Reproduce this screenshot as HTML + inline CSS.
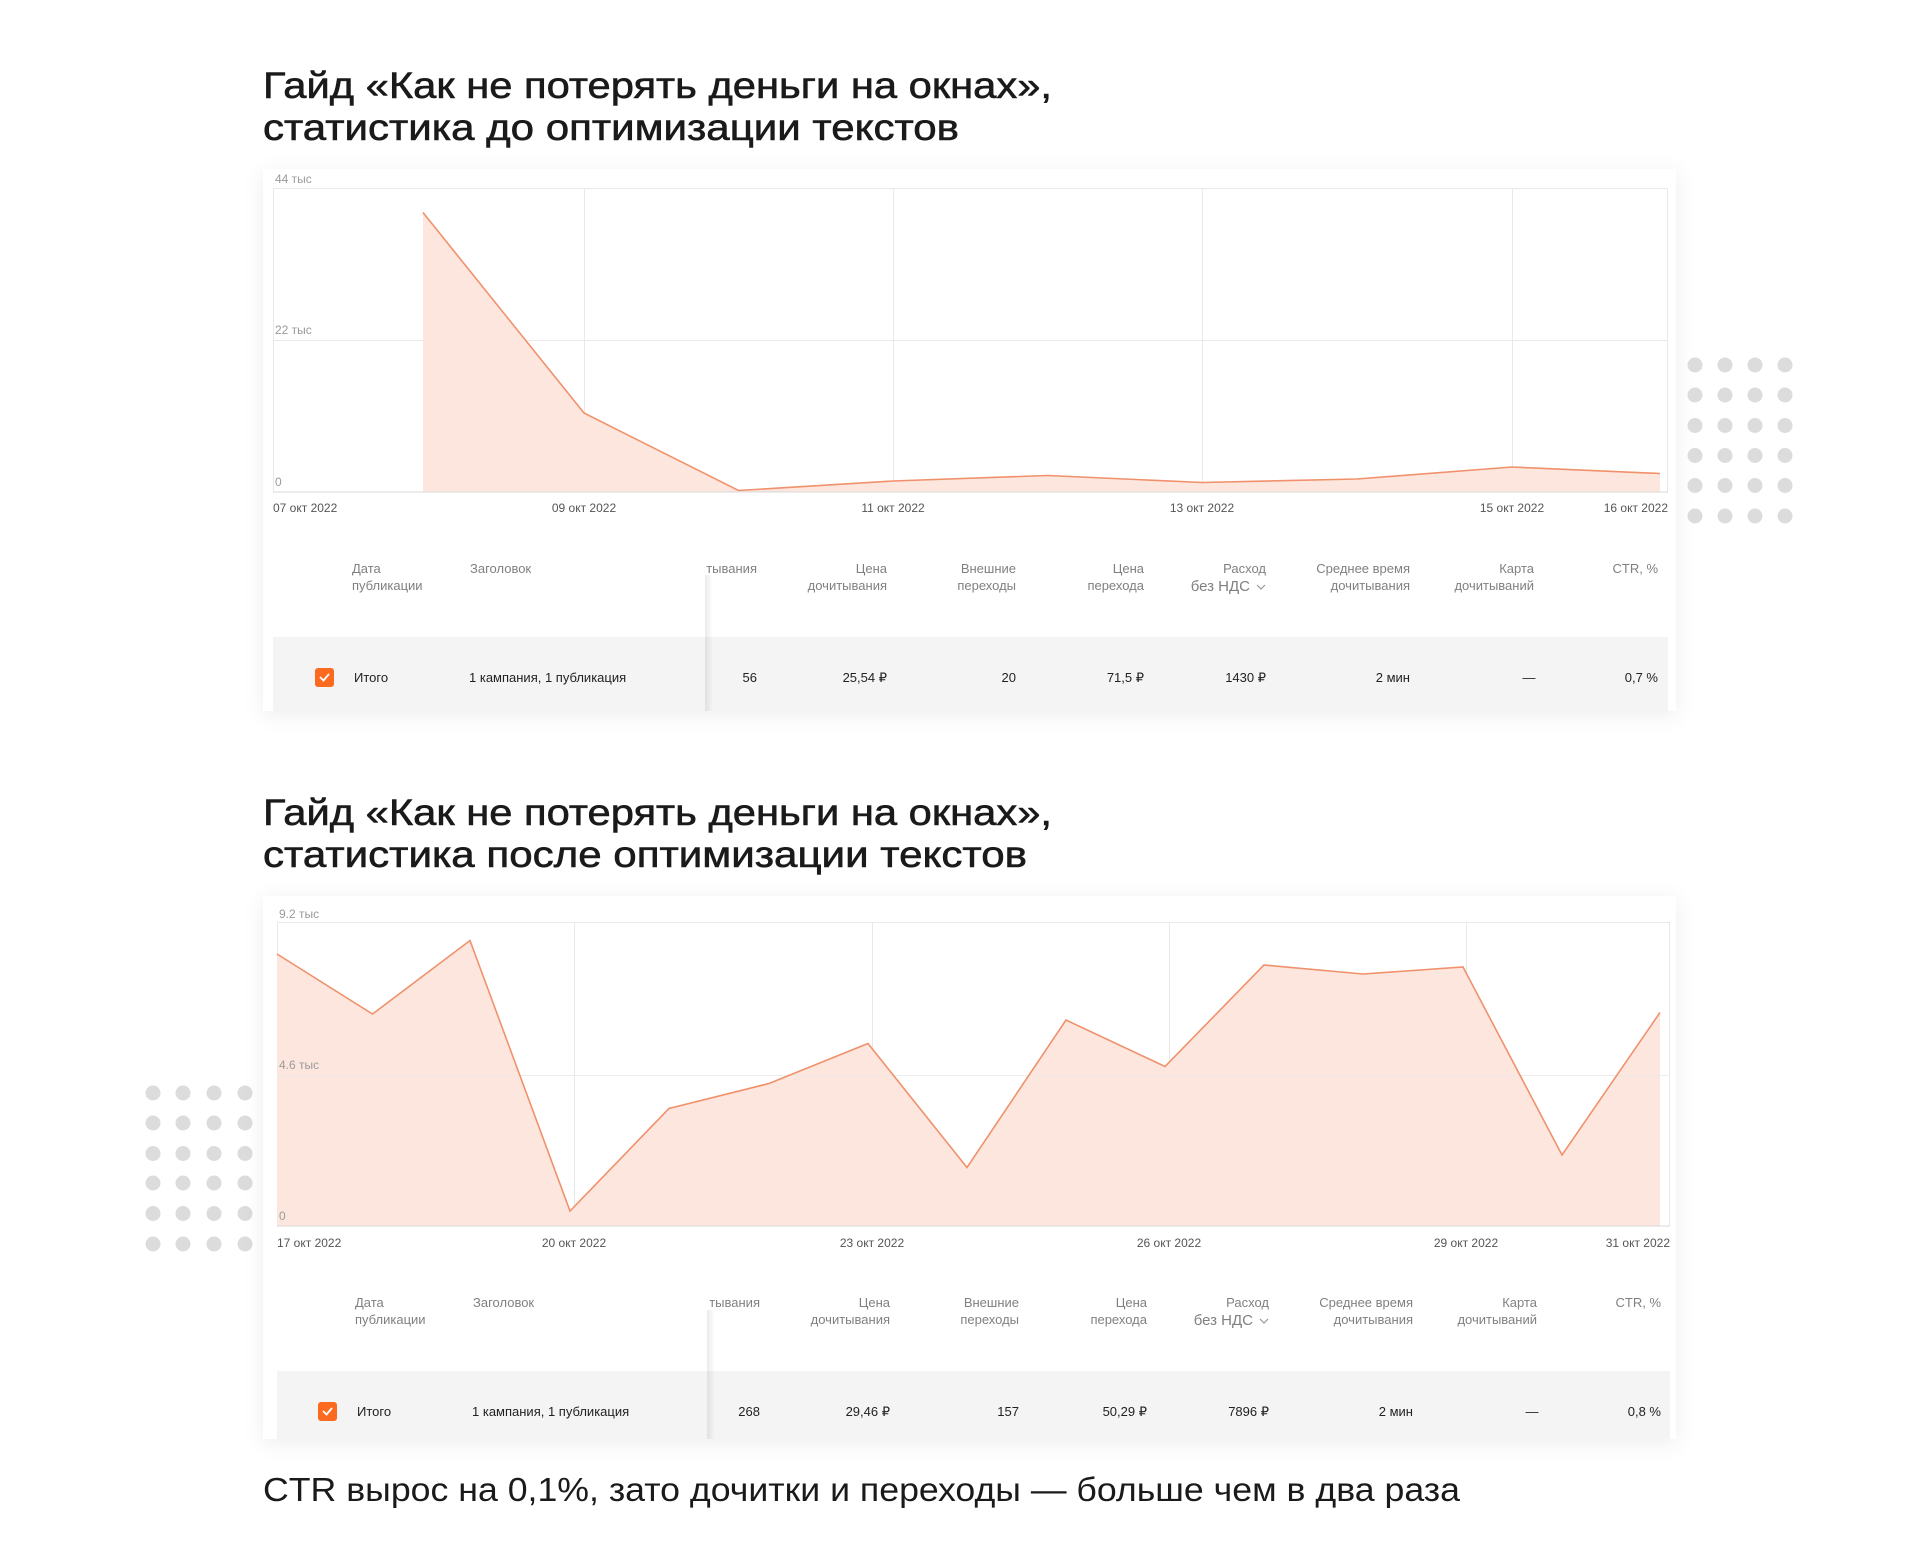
<!DOCTYPE html>
<html><head><meta charset="utf-8"><style>
html,body{margin:0;padding:0;background:#fff;}
svg{display:block;}
.t{font-family:"Liberation Sans",sans-serif;}
.ttl{font-size:37px;fill:#1a1a1a;stroke:#1a1a1a;stroke-width:0.6px;}
.yl{font-size:12px;fill:#9a9a9a;}
.xl{font-size:12px;fill:#555;}
.h{font-size:13px;fill:#808080;}
.r{font-size:13px;fill:#222;}
</style></head><body>
<svg width="1920" height="1560" viewBox="0 0 1920 1560" xmlns="http://www.w3.org/2000/svg">
<defs>
<filter id="sh" x="-5%" y="-5%" width="110%" height="115%"><feDropShadow dx="0" dy="4" stdDeviation="10" flood-color="#000" flood-opacity="0.07"/></filter>
<linearGradient id="dv" x1="0" x2="1"><stop offset="0" stop-color="#000" stop-opacity="0.08"/><stop offset="1" stop-color="#000" stop-opacity="0"/></linearGradient>
</defs>
<g class="t">
<!-- Titles 1 -->
<text class="ttl" x="263" y="98" textLength="789" lengthAdjust="spacingAndGlyphs">Гайд «Как не потерять деньги на окнах»,</text>
<text class="ttl" x="263" y="140" textLength="696" lengthAdjust="spacingAndGlyphs">статистика до оптимизации текстов</text>

<!-- Card 1 -->
<rect x="263" y="169" width="1413" height="542" fill="#fff" filter="url(#sh)"/>
<g stroke="#e9e9e9" stroke-width="1">
<line x1="273" y1="188.5" x2="1668" y2="188.5"/>
<line x1="273" y1="340.5" x2="1668" y2="340.5"/>
<line x1="273.5" y1="188" x2="273.5" y2="492"/>
<line x1="1667.5" y1="188" x2="1667.5" y2="492"/>
<line x1="584.5" y1="188" x2="584.5" y2="492"/>
<line x1="893.5" y1="188" x2="893.5" y2="492"/>
<line x1="1202.5" y1="188" x2="1202.5" y2="492"/>
<line x1="1512.5" y1="188" x2="1512.5" y2="492"/>
</g>
<polygon points="423,212.5 584,413 738.5,490.5 893,481 1047.5,475.5 1202,482.5 1357,479 1512,467 1660,473.5 1660,492 423,492" fill="#fde6dd"/>
<polyline points="423,212.5 584,413 738.5,490.5 893,481 1047.5,475.5 1202,482.5 1357,479 1512,467 1660,473.5" fill="none" stroke="#f0916c" stroke-width="1.6"/>
<line x1="273" y1="492" x2="1668" y2="492" stroke="#d8d8d8"/>
<text class="yl" x="275" y="183">44 тыс</text>
<text class="yl" x="275" y="334">22 тыс</text>
<text class="yl" x="275" y="486">0</text>
<text class="xl" x="273" y="512">07 окт 2022</text>
<text class="xl" x="584" y="512" text-anchor="middle">09 окт 2022</text>
<text class="xl" x="893" y="512" text-anchor="middle">11 окт 2022</text>
<text class="xl" x="1202" y="512" text-anchor="middle">13 окт 2022</text>
<text class="xl" x="1512" y="512" text-anchor="middle">15 окт 2022</text>
<text class="xl" x="1668" y="512" text-anchor="end">16 окт 2022</text>

<!-- table 1 -->
<rect x="273" y="637" width="1395" height="74" fill="#f4f4f4"/>
<rect x="705" y="575" width="8" height="136" fill="url(#dv)"/>
<g class="h">
<text x="352" y="573">Дата</text><text x="352" y="590">публикации</text>
<text x="470" y="573">Заголовок</text>
<text x="757" y="573" text-anchor="end">тывания</text>
<text x="887" y="573" text-anchor="end">Цена</text><text x="887" y="590" text-anchor="end">дочитывания</text>
<text x="1016" y="573" text-anchor="end">Внешние</text><text x="1016" y="590" text-anchor="end">переходы</text>
<text x="1144" y="573" text-anchor="end">Цена</text><text x="1144" y="590" text-anchor="end">перехода</text>
<text x="1266" y="573" text-anchor="end">Расход</text><text x="1250" y="591" text-anchor="end" style="font-size:15px">без НДС</text>
<text x="1410" y="573" text-anchor="end">Среднее время</text><text x="1410" y="590" text-anchor="end">дочитывания</text>
<text x="1534" y="573" text-anchor="end">Карта</text><text x="1534" y="590" text-anchor="end">дочитываний</text>
<text x="1658" y="573" text-anchor="end">CTR, %</text>
</g>
<polyline points="1257,585 1261,589 1265,585" fill="none" stroke="#999" stroke-width="1.2"/>
<rect x="315" y="668" width="19" height="19" rx="3" fill="#fb6a1e"/>
<polyline points="320,677 323.5,680.5 329,674" fill="none" stroke="#fff" stroke-width="1.8"/>
<g class="r">
<text x="354" y="682">Итого</text>
<text x="469" y="682">1 кампания, 1 публикация</text>
<text x="757" y="682" text-anchor="end">56</text>
<text x="887" y="682" text-anchor="end">25,54 ₽</text>
<text x="1016" y="682" text-anchor="end">20</text>
<text x="1144" y="682" text-anchor="end">71,5 ₽</text>
<text x="1266" y="682" text-anchor="end">1430 ₽</text>
<text x="1410" y="682" text-anchor="end">2 мин</text>
<text x="1529" y="682" text-anchor="middle">—</text>
<text x="1658" y="682" text-anchor="end">0,7 %</text>
</g>

<!-- dots right -->
<g fill="#dcdcdc">
<circle cx="1695" cy="365" r="7.5"/><circle cx="1725" cy="365" r="7.5"/><circle cx="1755" cy="365" r="7.5"/><circle cx="1785" cy="365" r="7.5"/>
<circle cx="1695" cy="395" r="7.5"/><circle cx="1725" cy="395" r="7.5"/><circle cx="1755" cy="395" r="7.5"/><circle cx="1785" cy="395" r="7.5"/>
<circle cx="1695" cy="425.5" r="7.5"/><circle cx="1725" cy="425.5" r="7.5"/><circle cx="1755" cy="425.5" r="7.5"/><circle cx="1785" cy="425.5" r="7.5"/>
<circle cx="1695" cy="455.5" r="7.5"/><circle cx="1725" cy="455.5" r="7.5"/><circle cx="1755" cy="455.5" r="7.5"/><circle cx="1785" cy="455.5" r="7.5"/>
<circle cx="1695" cy="485.5" r="7.5"/><circle cx="1725" cy="485.5" r="7.5"/><circle cx="1755" cy="485.5" r="7.5"/><circle cx="1785" cy="485.5" r="7.5"/>
<circle cx="1695" cy="516" r="7.5"/><circle cx="1725" cy="516" r="7.5"/><circle cx="1755" cy="516" r="7.5"/><circle cx="1785" cy="516" r="7.5"/>
</g>

<!-- Titles 2 -->
<text class="ttl" x="263" y="825" textLength="789" lengthAdjust="spacingAndGlyphs">Гайд «Как не потерять деньги на окнах»,</text>
<text class="ttl" x="263" y="867" textLength="764" lengthAdjust="spacingAndGlyphs">статистика после оптимизации текстов</text>

<!-- dots left -->
<g fill="#dcdcdc">
<circle cx="153" cy="1093" r="7.5"/><circle cx="183" cy="1093" r="7.5"/><circle cx="214" cy="1093" r="7.5"/><circle cx="245" cy="1093" r="7.5"/>
<circle cx="153" cy="1123" r="7.5"/><circle cx="183" cy="1123" r="7.5"/><circle cx="214" cy="1123" r="7.5"/><circle cx="245" cy="1123" r="7.5"/>
<circle cx="153" cy="1153.5" r="7.5"/><circle cx="183" cy="1153.5" r="7.5"/><circle cx="214" cy="1153.5" r="7.5"/><circle cx="245" cy="1153.5" r="7.5"/>
<circle cx="153" cy="1183" r="7.5"/><circle cx="183" cy="1183" r="7.5"/><circle cx="214" cy="1183" r="7.5"/><circle cx="245" cy="1183" r="7.5"/>
<circle cx="153" cy="1213.5" r="7.5"/><circle cx="183" cy="1213.5" r="7.5"/><circle cx="214" cy="1213.5" r="7.5"/><circle cx="245" cy="1213.5" r="7.5"/>
<circle cx="153" cy="1244" r="7.5"/><circle cx="183" cy="1244" r="7.5"/><circle cx="214" cy="1244" r="7.5"/><circle cx="245" cy="1244" r="7.5"/>
</g>

<!-- Card 2 -->
<rect x="263" y="896" width="1413" height="543" fill="#fff" filter="url(#sh)"/>
<g stroke="#e9e9e9" stroke-width="1">
<line x1="277" y1="922.5" x2="1670" y2="922.5"/>
<line x1="277.5" y1="922" x2="277.5" y2="1226"/>
<line x1="1669.5" y1="922" x2="1669.5" y2="1226"/>
<line x1="574.5" y1="922" x2="574.5" y2="1226"/>
<line x1="872.5" y1="922" x2="872.5" y2="1226"/>
<line x1="1169.5" y1="922" x2="1169.5" y2="1226"/>
<line x1="1466.5" y1="922" x2="1466.5" y2="1226"/>
</g>
<polygon points="277,954 372.5,1014 470,940.5 570,1211 669,1108.5 769,1083.5 868,1043.5 967,1167.5 1066,1020 1165,1066.5 1264,965 1363,974 1463,967 1562,1155 1660,1012.5 1660,1226 277,1226" fill="#fde6dd"/>
<line x1="277" y1="1075.5" x2="1670" y2="1075.5" stroke="#e9e9e9" stroke-opacity="0.8"/>
<polyline points="277,954 372.5,1014 470,940.5 570,1211 669,1108.5 769,1083.5 868,1043.5 967,1167.5 1066,1020 1165,1066.5 1264,965 1363,974 1463,967 1562,1155 1660,1012.5" fill="none" stroke="#f0916c" stroke-width="1.6"/>
<line x1="277" y1="1226" x2="1670" y2="1226" stroke="#d8d8d8"/>
<text class="yl" x="279" y="918">9.2 тыс</text>
<text class="yl" x="279" y="1069">4.6 тыс</text>
<text class="yl" x="279" y="1220">0</text>
<text class="xl" x="277" y="1247">17 окт 2022</text>
<text class="xl" x="574" y="1247" text-anchor="middle">20 окт 2022</text>
<text class="xl" x="872" y="1247" text-anchor="middle">23 окт 2022</text>
<text class="xl" x="1169" y="1247" text-anchor="middle">26 окт 2022</text>
<text class="xl" x="1466" y="1247" text-anchor="middle">29 окт 2022</text>
<text class="xl" x="1670" y="1247" text-anchor="end">31 окт 2022</text>

<!-- table 2 -->
<rect x="277" y="1371" width="1393" height="68" fill="#f4f4f4"/>
<rect x="707" y="1310" width="8" height="129" fill="url(#dv)"/>
<g class="h">
<text x="355" y="1307">Дата</text><text x="355" y="1324">публикации</text>
<text x="473" y="1307">Заголовок</text>
<text x="760" y="1307" text-anchor="end">тывания</text>
<text x="890" y="1307" text-anchor="end">Цена</text><text x="890" y="1324" text-anchor="end">дочитывания</text>
<text x="1019" y="1307" text-anchor="end">Внешние</text><text x="1019" y="1324" text-anchor="end">переходы</text>
<text x="1147" y="1307" text-anchor="end">Цена</text><text x="1147" y="1324" text-anchor="end">перехода</text>
<text x="1269" y="1307" text-anchor="end">Расход</text><text x="1253" y="1325" text-anchor="end" style="font-size:15px">без НДС</text>
<text x="1413" y="1307" text-anchor="end">Среднее время</text><text x="1413" y="1324" text-anchor="end">дочитывания</text>
<text x="1537" y="1307" text-anchor="end">Карта</text><text x="1537" y="1324" text-anchor="end">дочитываний</text>
<text x="1661" y="1307" text-anchor="end">CTR, %</text>
</g>
<polyline points="1260,1319 1264,1323 1268,1319" fill="none" stroke="#999" stroke-width="1.2"/>
<rect x="318" y="1402" width="19" height="19" rx="3" fill="#fb6a1e"/>
<polyline points="323,1411 326.5,1414.5 332,1408" fill="none" stroke="#fff" stroke-width="1.8"/>
<g class="r">
<text x="357" y="1416">Итого</text>
<text x="472" y="1416">1 кампания, 1 публикация</text>
<text x="760" y="1416" text-anchor="end">268</text>
<text x="890" y="1416" text-anchor="end">29,46 ₽</text>
<text x="1019" y="1416" text-anchor="end">157</text>
<text x="1147" y="1416" text-anchor="end">50,29 ₽</text>
<text x="1269" y="1416" text-anchor="end">7896 ₽</text>
<text x="1413" y="1416" text-anchor="end">2 мин</text>
<text x="1532" y="1416" text-anchor="middle">—</text>
<text x="1661" y="1416" text-anchor="end">0,8 %</text>
</g>

<text x="263" y="1501" style="font-size:33px;fill:#1a1a1a" textLength="1197" lengthAdjust="spacingAndGlyphs">CTR вырос на 0,1%, зато дочитки и переходы — больше чем в два раза</text>
</g>
</svg>
</body></html>
